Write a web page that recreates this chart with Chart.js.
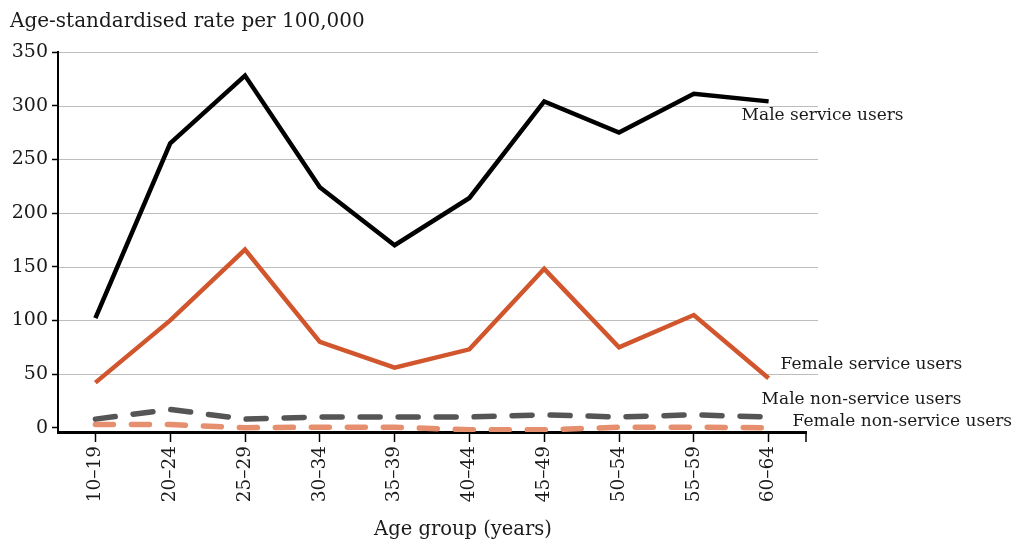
<!DOCTYPE html>
<html>
<head>
<meta charset="utf-8">
<script src="https://cdn.jsdelivr.net/npm/chart.js@4.4.1/dist/chart.umd.min.js"></script>
<style>
  html, body { margin: 0; padding: 0; background: #fff; }
  #wrap { width: 1022px; height: 540px; position: relative; }
</style>
</head>
<body>
<div id="wrap"><canvas id="plot"></canvas></div>
<script>
const ageGroups = ['10\u201319', '20\u201324', '25\u201329', '30\u201334', '35\u201339', '40\u201344', '45\u201349', '50\u201354', '55\u201359', '60\u201364'];
const maleService = [102, 265, 328, 224, 170, 214, 304, 275, 311, 304];
const femaleService = [42, 100, 166, 80, 56, 73, 148, 75, 105, 46];
const maleNonService = [8, 17, 8, 10, 10, 10, 12, 10, 12, 10];
const femaleNonService = [3, 3, 0, 0.5, 0.5, -2, -2, 0.5, 0.5, 0];
const yTicks = [0, 50, 100, 150, 200, 250, 300, 350];
const seriesNames = ['Male service users', 'Female service users', 'Male non-service users', 'Female non-service users'];
const yTitle = 'Age-standardised rate per 100,000';
const xTitle = 'Age group (years)';

const FONT = '"DejaVu Serif", serif';
const INK = '#1a1a1a';

// where each end label sits relative to its last point
const labelOffsets = [
    { dx: -27, dy: 14 },
    { dx: 12, dy: -14 },
    { dx: -7, dy: -17 },
    { dx: 24, dy: -6 }
];

const endLabels = {
    id: 'endLabels',
    afterDatasetsDraw(chart) {
        const ctx = chart.ctx;
        const xs = chart.scales.x, ys = chart.scales.y;
        ctx.save();
        ctx.font = '17px ' + FONT;
        ctx.fillStyle = INK;
        ctx.textBaseline = 'middle';
        ctx.textAlign = 'left';
        chart.data.datasets.forEach((ds, i) => {
            const last = ds.data.length - 1;
            const px = xs.getPixelForValue(last);
            const py = ys.getPixelForValue(ds.data[last]);
            ctx.fillText(seriesNames[i], px + labelOffsets[i].dx, py + labelOffsets[i].dy);
        });
        ctx.restore();
    }
};

const titles = {
    id: 'titles',
    beforeDraw(chart) {
        const ctx = chart.ctx;
        const a = chart.chartArea;
        ctx.save();
        // horizontal grid, running a little past the x axis end
        ctx.strokeStyle = '#bdbdbd';
        ctx.lineWidth = 1;
        yTicks.forEach(v => {
            if (v <= 0) return;
            const y = Math.round(chart.scales.y.getPixelForValue(v)) + 0.5;
            ctx.beginPath();
            ctx.moveTo(a.left, y);
            ctx.lineTo(a.right + 12, y);
            ctx.stroke();
        });
        // closing tick at the end of the x axis
        ctx.strokeStyle = '#000';
        ctx.lineWidth = 1.5;
        ctx.beginPath();
        ctx.moveTo(a.right, a.bottom);
        ctx.lineTo(a.right, a.bottom + 10);
        ctx.stroke();
        ctx.fillStyle = INK;
        ctx.font = '20px ' + FONT;
        ctx.textAlign = 'left';
        ctx.textBaseline = 'middle';
        ctx.fillText(yTitle, 10, 22);
        ctx.font = '19.5px ' + FONT;
        ctx.textAlign = 'center';
        ctx.fillText(xTitle, (a.left + a.right) / 2 + 31, 530);
        ctx.restore();
    }
};

new Chart(document.getElementById('plot'), {
    type: 'line',
    data: {
        labels: ageGroups,
        datasets: [
            { label: seriesNames[0], data: maleService, borderColor: '#000000', borderWidth: 4.5 },
            { label: seriesNames[1], data: femaleService, borderColor: '#d2562d', borderWidth: 4.5 },
            { label: seriesNames[2], data: maleNonService, borderColor: '#555555', borderWidth: 5.5, borderDash: [20, 18], borderCapStyle: 'round' },
            { label: seriesNames[3], data: femaleNonService, borderColor: '#e58f6f', borderWidth: 5.5, borderDash: [18, 18], borderCapStyle: 'round' }
        ]
    },
    options: {
        responsive: true,
        maintainAspectRatio: false,
        animation: false,
        devicePixelRatio: 1,
        layout: { padding: { top: 52, right: 216, left: 0, bottom: 0 } },
        elements: { point: { radius: 0 }, line: { tension: 0, borderJoinStyle: 'miter' } },
        plugins: { legend: { display: false }, tooltip: { enabled: false } },
        scales: {
            x: {
                offset: true,
                border: { color: '#000', width: 3 },
                grid: { drawOnChartArea: false, offset: false, tickLength: 10, tickColor: '#000', tickWidth: 1.5 },
                ticks: { minRotation: 90, maxRotation: 90, padding: 4, color: INK, font: { family: FONT, size: 18.5 } },
                afterFit(scale) { scale.height = 108; }
            },
            y: {
                min: -4,
                max: 350,
                border: { color: '#000', width: 2 },
                grid: { drawOnChartArea: false, tickLength: 6, tickColor: '#000', tickWidth: 1.5 },
                ticks: { padding: 4, color: INK, font: { family: FONT, size: 19 } },
                afterBuildTicks(scale) { scale.ticks = yTicks.map(v => ({ value: v })); },
                afterFit(scale) { scale.width = 58; }
            }
        }
    },
    plugins: [titles, endLabels]
});
</script>
</body>
</html>
